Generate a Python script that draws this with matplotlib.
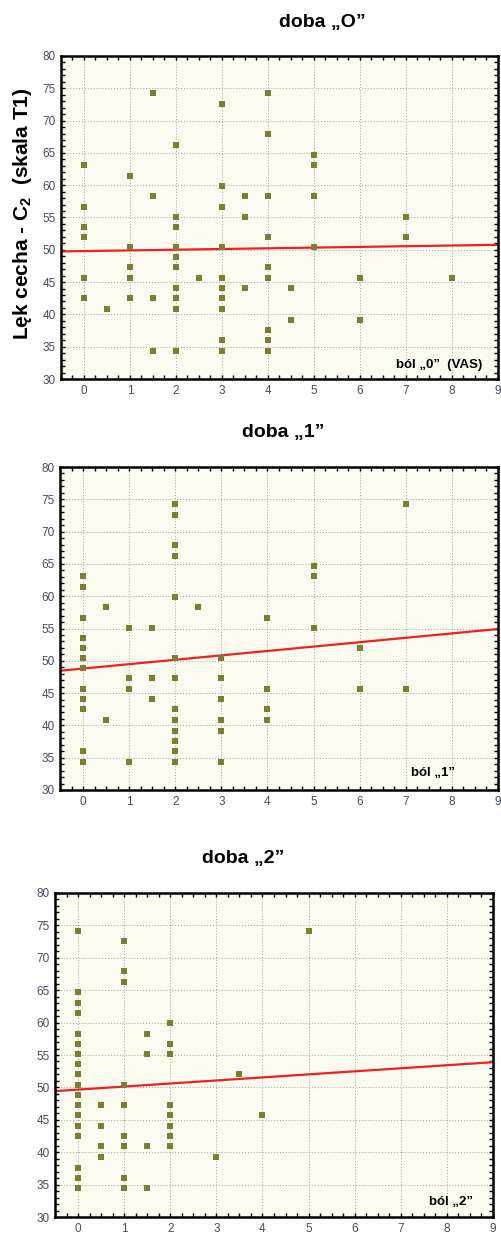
import numpy as np
import matplotlib
matplotlib.use("Agg")
import matplotlib.pyplot as plt
from matplotlib.ticker import MultipleLocator

plt.rcParams["font.family"] = ["Liberation Sans", "DejaVu Sans"]
plt.rcParams["mathtext.fontset"] = "custom"
plt.rcParams["mathtext.rm"] = "Liberation Sans"
plt.rcParams["mathtext.bf"] = "Liberation Sans:bold"

# doba "0": pain score (VAS) vs trait anxiety (T score)
bol0 = [0, 0, 0, 0, 0, 0,
        0.5,
        1, 1, 1, 1, 1,
        1.5, 1.5, 1.5, 1.5,
        2, 2, 2, 2, 2, 2, 2, 2, 2, 2,
        2.5,
        3, 3, 3, 3, 3, 3, 3, 3, 3, 3,
        3.5, 3.5, 3.5,
        4, 4, 4, 4, 4, 4, 4, 4, 4,
        4.5, 4.5,
        5, 5, 5, 5,
        6, 6,
        7, 7,
        8]
lek0 = [63.1, 56.7, 53.6, 52.0, 45.7, 42.5,
        40.9,
        61.5, 50.4, 47.3, 45.7, 42.5,
        74.2, 58.3, 42.5, 34.4,
        66.3, 55.1, 53.6, 50.4, 48.9, 47.3, 44.1, 42.5, 40.9, 34.4,
        45.7,
        72.6, 59.9, 56.7, 50.4, 45.7, 44.1, 42.5, 40.9, 36.0, 34.4,
        58.3, 55.1, 44.1,
        74.2, 67.9, 58.3, 52.0, 47.3, 45.7, 37.6, 36.0, 34.4,
        44.1, 39.2,
        64.7, 63.1, 58.3, 50.4,
        45.7, 39.2,
        55.1, 52.0,
        45.7]

# doba "1"
bol1 = [0, 0, 0, 0, 0, 0, 0, 0, 0, 0, 0, 0,
        0.5, 0.5,
        1, 1, 1, 1,
        1.5, 1.5, 1.5,
        2, 2, 2, 2, 2, 2, 2, 2, 2, 2, 2, 2, 2,
        2.5,
        3, 3, 3, 3, 3, 3,
        4, 4, 4, 4,
        5, 5, 5,
        6, 6,
        7, 7]
lek1 = [63.1, 61.5, 56.7, 53.6, 52.0, 50.4, 48.9, 45.7, 44.1, 42.5, 36.0, 34.4,
        58.3, 40.9,
        55.1, 47.3, 45.7, 34.4,
        55.1, 47.3, 44.1,
        74.2, 72.6, 67.9, 66.3, 59.9, 50.4, 47.3, 42.5, 40.9, 39.2, 37.6, 36.0, 34.4,
        58.3,
        50.4, 47.3, 44.1, 40.9, 39.2, 34.4,
        56.7, 45.7, 42.5, 40.9,
        64.7, 63.1, 55.1,
        52.0, 45.7,
        74.2, 45.7]

# doba "2"
bol2 = [0, 0, 0, 0, 0, 0, 0, 0, 0, 0, 0, 0, 0, 0, 0, 0, 0, 0,
        0.5, 0.5, 0.5, 0.5,
        1, 1, 1, 1, 1, 1, 1, 1, 1,
        1.5, 1.5, 1.5, 1.5,
        2, 2, 2, 2, 2, 2, 2, 2,
        3,
        3.5,
        4,
        5]
lek2 = [74.2, 64.7, 63.1, 61.5, 58.3, 56.7, 55.1, 53.6, 52.0, 50.4, 48.9, 47.3,
        45.7, 44.1, 42.5, 37.6, 36.0, 34.4,
        47.3, 44.1, 40.9, 39.2,
        72.6, 67.9, 66.3, 50.4, 47.3, 42.5, 40.9, 36.0, 34.4,
        58.3, 55.1, 40.9, 34.4,
        59.9, 56.7, 55.1, 47.3, 45.7, 44.1, 42.5, 40.9,
        39.2,
        52.0,
        45.7,
        74.2]

# fitted lines (intercept, slope)
fit_intercept = [49.8, 48.8, 49.66]
fit_slope = [0.108, 0.68, 0.47]

titles = ["doba \u201eO\u201d", "doba \u201e1\u201d", "doba \u201e2\u201d"]
xlabels = ["ból \u201e0\u201d  (VAS)", "ból \u201e1\u201d", "ból \u201e2\u201d"]

W, H = 502, 1233
fig = plt.figure(figsize=(W / 100, H / 100), dpi=100)

# axes boxes in pixels: left, top, right, bottom
boxes = [(61, 56, 498, 379), (60, 467, 498, 790), (55, 893, 493, 1217)]
title_pos = [(322, 22), (283, 432), (243, 859)]
xlab_pos = [(482, 365), (455, 773), (473, 1202)]

panels = [(bol0, lek0), (bol1, lek1), (bol2, lek2)]
for i, (xs, ys) in enumerate(panels):
    l, t, r, b = boxes[i]
    ax = fig.add_axes([l / W, 1 - b / H, (r - l) / W, (b - t) / H])
    ax.set_facecolor("#fbfbef")
    ax.grid(True, color="#a0a0a0", linestyle=(0, (1, 2)), linewidth=0.7)
    ax.set_axisbelow(True)

    xx = np.array([-0.5, 9])
    ax.plot(xx, fit_intercept[i] + fit_slope[i] * xx, color="#f02020", lw=1.6, zorder=2)
    ax.plot(xs, ys, "s", color="#7d7d35", markersize=4.4, markeredgewidth=0, zorder=3)

    ax.set_xlim(-0.5, 9)
    ax.set_ylim(30, 80)
    ax.xaxis.set_major_locator(MultipleLocator(1))
    ax.yaxis.set_major_locator(MultipleLocator(5))
    ax.xaxis.set_minor_locator(MultipleLocator(0.25))
    ax.yaxis.set_minor_locator(MultipleLocator(1))
    ax.tick_params(which="both", direction="in", top=True, right=True,
                   length=3, width=1, color="black")
    ax.tick_params(which="major", labelsize=8.5, labelcolor="#454c5c", pad=4)
    for s in ax.spines.values():
        s.set_linewidth(1.8)

    tx, ty = title_pos[i]
    fig.text(tx / W, 1 - ty / H, titles[i], ha="center", va="center",
             fontsize=14, fontweight="bold")
    lx, ly = xlab_pos[i]
    fig.text(lx / W, 1 - ly / H, xlabels[i], ha="right", va="center",
             fontsize=9.5, fontweight="bold")

fig.text(23 / W, 1 - 214 / H, "Lęk cecha - C$_\\mathbf{2}$  (skala T1)", rotation=90,
         ha="center", va="center", fontsize=15, fontweight="bold")

fig.savefig("out.png", dpi=100)
